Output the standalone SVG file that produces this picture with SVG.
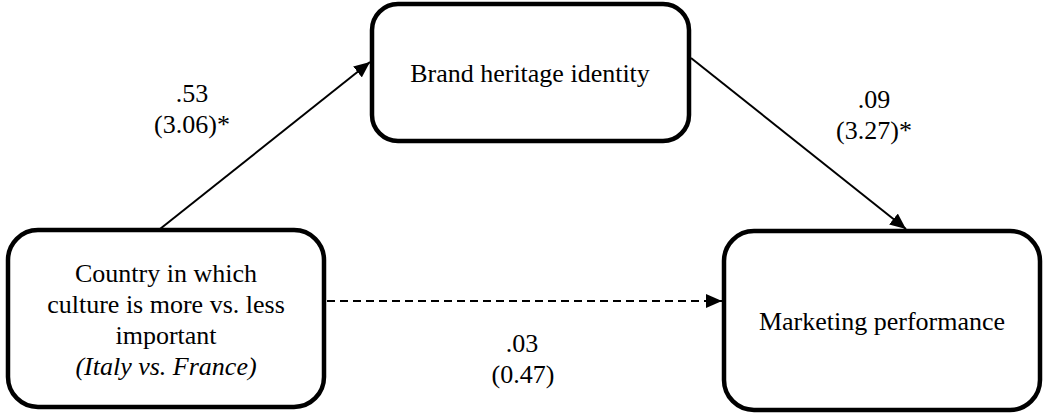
<svg xmlns="http://www.w3.org/2000/svg" width="1044" height="415" viewBox="0 0 1044 415">
<style>
.box{fill:#fff;stroke:#000;stroke-width:4.5}
.c{stroke:#000;stroke-width:2;fill:none}
.d{stroke-dasharray:8 5}
</style>
<defs>
<marker id="ah" markerUnits="userSpaceOnUse" markerWidth="18" markerHeight="14" refX="16" refY="7" orient="auto">
<path d="M0,0 L16,7 L0,14 Z" fill="#000"/>
</marker>
</defs>
<rect width="1044" height="415" fill="#fff"/>
<g id="connectors">
<line class="c" x1="160" y1="229" x2="370" y2="62" marker-end="url(#ah)"/>
<line class="c" x1="691" y1="58" x2="906" y2="229" marker-end="url(#ah)"/>
<line class="c d" x1="327" y1="301" x2="722" y2="301" marker-end="url(#ah)"/>
<g font-family="Liberation Serif" font-size="26" text-anchor="middle" fill="#000">
<text x="192" y="102">.53</text>
<text x="192" y="133">(3.06)*</text>
<text x="874" y="108">.09</text>
<text x="874" y="139">(3.27)*</text>
<text x="522" y="352">.03</text>
<text x="523" y="383">(0.47)</text>
</g>
</g>
<g id="node-brand">
<rect class="box" x="372" y="4" width="317" height="137" rx="26"/>
<text font-family="Liberation Serif" font-size="26" text-anchor="middle" x="530" y="82">Brand heritage identity</text>
</g>
<g id="node-country">
<rect class="box" x="8" y="230" width="316" height="177" rx="30"/>
<g font-family="Liberation Serif" font-size="26" text-anchor="middle">
<text x="166" y="282">Country in which</text>
<text x="166" y="313">culture is more vs. less</text>
<text x="166" y="344">important</text>
<text x="166" y="375" font-style="italic">(Italy vs. France)</text>
</g>
</g>
<g id="node-marketing">
<rect class="box" x="724" y="231" width="316" height="179" rx="30"/>
<text font-family="Liberation Serif" font-size="26" text-anchor="middle" x="882" y="330">Marketing performance</text>
</g>
</svg>
